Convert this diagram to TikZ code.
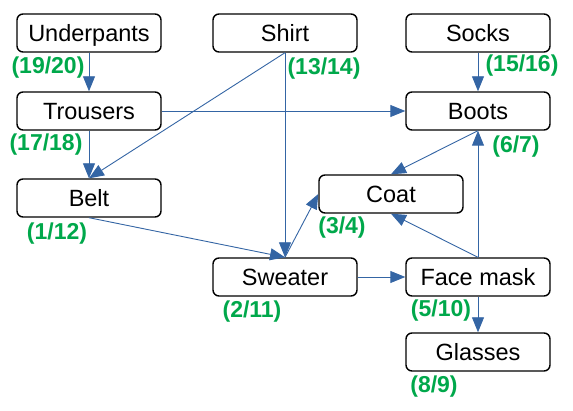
\documentclass[tikz,border=0pt]{standalone}
\usepackage{fontspec}
\setmainfont{Liberation Sans}
\usepackage{xcolor}
\usepackage{tikz}
\usetikzlibrary{arrows.meta}

\definecolor{edgeblue}{RGB}{52,101,164}
\definecolor{ordgreen}{RGB}{0,168,75}

\tikzset{
  box/.style={draw=black, line width=1.4pt, rounded corners=6pt, fill=white,
    minimum width=144pt, minimum height=38pt, inner sep=0pt,
    text height=17pt, text depth=0pt,
    font=\fontsize{23.5}{28}\selectfont},
  num/.style={text=ordgreen, font=\fontsize{23}{27}\selectfont\bfseries, inner sep=0pt},
  dep/.style={draw=edgeblue, line width=0.9pt, -{Triangle[length=15pt,width=12pt]}}
}

\begin{document}
\begin{tikzpicture}[x=1pt,y=-1pt]
\useasboundingbox (0,0) rectangle (573,411);
% garments
\node [box] (underpants) at (89,33) {Underpants};
\node [box] (trousers) at (89,111) {Trousers};
\node [box] (belt) at (89,198) {Belt};
\node [box] (shirt) at (285,33) {Shirt};
\node [box] (socks) at (478,33) {Socks};
\node [box] (boots) at (478,111) {Boots};
\node [box] (coat) at (391,194) {Coat};
\node [box] (sweater) at (285,277) {Sweater};
\node [box] (facemask) at (478,277) {Face mask};
\node [box] (glasses) at (478,352) {Glasses};
% discovery/finish times
\node [num] (tunderpants) at (48,68) {(19/20)};
\node [num] (ttrousers) at (46,145) {(17/18)};
\node [num] (tbelt) at (57,234) {(1/12)};
\node [num] (tshirt) at (324,69) {(13/14)};
\node [num] (tsocks) at (522,66) {(15/16)};
\node [num] (tboots) at (516,147) {(6/7)};
\node [num] (tcoat) at (342,228) {(3/4)};
\node [num] (tsweater) at (252,312) {(2/11)};
\node [num] (tfacemask) at (441,311) {(5/10)};
\node [num] (tglasses) at (434,387) {(8/9)};
% dependencies
\draw [dep] (underpants.south) -- (trousers.north);
\draw [dep] (trousers.south) -- (belt.north);
\draw [dep] (trousers.east) -- (boots.west);
\draw [dep] (shirt.south) -- (belt.north);
\draw [dep] (shirt.south) -- (sweater.north);
\draw [dep] (socks.south) -- (boots.north);
\draw [dep] (boots.south) -- (coat.north);
\draw [dep] (belt.south) -- (sweater.north);
\draw [dep] (sweater.north) -- (coat.west);
\draw [dep] (sweater.east) -- (facemask.west);
\draw [dep] (facemask.north) -- (boots.south);
\draw [dep] (facemask.north) -- (coat.south);
\draw [dep] (facemask.south) -- (glasses.north);
\end{tikzpicture}
\end{document}
